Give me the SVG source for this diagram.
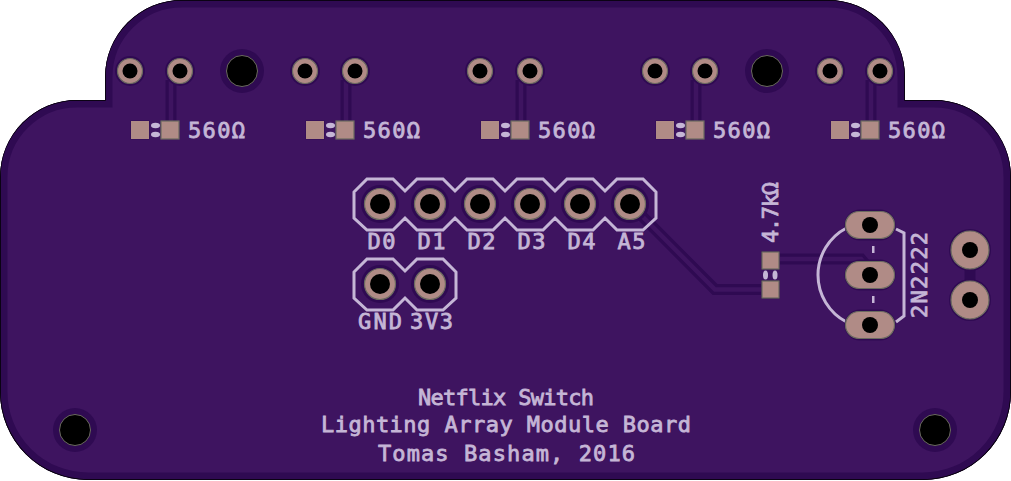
<svg xmlns="http://www.w3.org/2000/svg" xmlns:xlink="http://www.w3.org/1999/xlink" width="1011" height="481" viewBox="0 0 1011 481">
<style>
.clr{fill:#2f0a52}
.pad{fill:#b08b86;stroke:#6b6a60;stroke-width:1.2}
.hole{fill:#000}
.silk{fill:none;stroke:#c5b6d6;stroke-width:3}
.dot{fill:#c5b6d6}
.t{font-family:"DejaVu Sans Mono","Liberation Mono",monospace;font-size:22px;fill:#c5b6d6;stroke:#c5b6d6;stroke-width:.8}
.tr0{fill:none;stroke:#2f0a52;stroke-width:11}
.tr1{fill:none;stroke:#3e1460;stroke-width:4.5}
</style>
<defs>
<path id="outline" d="M0 177A77 77 0 0 1 77 100H105V77A77 77 0 0 1 182 0H828A77 77 0 0 1 905 77V100H934A77 77 0 0 1 1011 177V392A88 88 0 0 1 923 480H88A88 88 0 0 1 0 392Z"/>
<clipPath id="bc"><use xlink:href="#outline"/></clipPath>
<g id="pin"><circle r="15" class="clr"/><circle r="12.5" class="pad"/><circle r="7.5" class="hole"/></g>
<g id="hdr"><circle r="19" class="clr"/><circle r="15.5" class="pad"/><circle r="10" class="hole"/></g>
<g id="mnt"><circle r="22" class="clr"/><circle r="15.5" fill="#000" stroke="#6b6a60"/></g>
<g id="res"><rect x="-39.500" y="-9.500" width="19" height="19" class="clr"/><rect x="-39" y="-9" width="18" height="18" fill="#b08b86"/><rect x="-9" y="-9" width="18" height="18" class="pad"/><ellipse cx="-14.500" cy="-4.500" rx="4.500" ry="2.700" class="dot"/><ellipse cx="-14.500" cy="4.500" rx="4.500" ry="2.700" class="dot"/></g>
<g id="ob"><rect x="-25.500" y="-15.500" width="51" height="31" rx="15.500" class="clr"/><rect x="-24.500" y="-13.500" width="49" height="27" rx="13.500" class="pad"/><circle r="8" class="hole"/></g>
</defs>
<rect width="1011" height="481" fill="#fff"/>
<g id="board" clip-path="url(#bc)">
<use xlink:href="#outline" fill="#3e1460"/>
<use xlink:href="#outline" fill="none" stroke="#2f0a52" stroke-width="15"/>
<use xlink:href="#outline" fill="none" stroke="#000" stroke-width="1.500"/>
</g>
<g id="connectors">
<path class="tr0" d="M171 80V125M346 80V125M521 80V125M696 80V125M871 80V125M630 204L715 289.500H769M772 259H861L872 272M970 250V300"/>
<path class="tr1" d="M171 80V125M346 80V125M521 80V125M696 80V125M871 80V125M630 204L715 289.500H769M772 259H861L872 272"/>
</g>
<g id="pins">
<use xlink:href="#pin" x="130" y="71"/><use xlink:href="#pin" x="180" y="71"/>
<use xlink:href="#pin" x="305" y="71"/><use xlink:href="#pin" x="355" y="71"/>
<use xlink:href="#pin" x="480" y="71"/><use xlink:href="#pin" x="530" y="71"/>
<use xlink:href="#pin" x="655" y="71"/><use xlink:href="#pin" x="705" y="71"/>
<use xlink:href="#pin" x="830" y="71"/><use xlink:href="#pin" x="880" y="71"/>
</g>
<g id="mounts">
<use xlink:href="#mnt" x="242" y="71"/><use xlink:href="#mnt" x="767" y="71"/>
<use xlink:href="#mnt" x="75" y="430"/><use xlink:href="#mnt" x="935" y="430"/>
</g>
<g id="r1"><use xlink:href="#res" x="170" y="130"/><text class="t" x="188" y="138" textLength="57">560Ω</text></g>
<g id="r2"><use xlink:href="#res" x="345" y="130"/><text class="t" x="363" y="138" textLength="57">560Ω</text></g>
<g id="r3"><use xlink:href="#res" x="520" y="130"/><text class="t" x="538" y="138" textLength="57">560Ω</text></g>
<g id="r4"><use xlink:href="#res" x="695" y="130"/><text class="t" x="713" y="138" textLength="57">560Ω</text></g>
<g id="r5"><use xlink:href="#res" x="870" y="130"/><text class="t" x="888" y="138" textLength="57">560Ω</text></g>
<g id="header1">
<path class="silk" d="M354 192L367 179H393L405 191L417 179H443L455 191L467 179H493L505 191L517 179H543L555 191L567 179H593L605 191L617 179H643L656 192V218L643 230H617L605 218L593 230H567L555 218L543 230H517L505 218L493 230H467L455 218L443 230H417L405 218L393 230H367L354 218Z"/>
<use xlink:href="#hdr" x="380" y="204"/><use xlink:href="#hdr" x="430" y="204"/><use xlink:href="#hdr" x="480" y="204"/><use xlink:href="#hdr" x="530" y="204"/><use xlink:href="#hdr" x="580" y="204"/><use xlink:href="#hdr" x="630" y="204"/>
<text class="t" x="367.500" y="249" textLength="28">D0</text><text class="t" x="417.500" y="249" textLength="28">D1</text><text class="t" x="467.500" y="249" textLength="28">D2</text><text class="t" x="517.500" y="249" textLength="28">D3</text><text class="t" x="567.500" y="249" textLength="28">D4</text><text class="t" x="617.500" y="249" textLength="28">A5</text>
</g>
<g id="header2">
<path class="silk" d="M354 272L367 259H393L405 271L417 259H443L456 272V298L443 310H417L405 298L393 310H367L354 298Z"/>
<use xlink:href="#hdr" x="380" y="284"/><use xlink:href="#hdr" x="430" y="284"/>
<text class="t" x="358" y="329" textLength="44">GND</text><text class="t" x="410" y="329" textLength="43">3V3</text>
</g>
<g id="r6">
<rect x="761" y="251" width="19" height="19" class="clr"/><rect x="761" y="280" width="19" height="19" class="clr"/>
<rect x="762" y="252" width="17" height="17" class="pad"/><rect x="762" y="281" width="17" height="17" class="pad"/>
<ellipse cx="765.500" cy="275" rx="2.500" ry="4.500" class="dot"/><ellipse cx="775" cy="275" rx="2.500" ry="4.500" class="dot"/>
<text class="t" transform="translate(778 243) rotate(-90)" textLength="61">4.7kΩ</text>
</g>
<g id="q1">
<path class="silk" d="M846.500 228A53 53 0 0 0 846.500 322M896 229L904 233V316L896 322"/>
<rect x="872" y="246" width="2.500" height="7" class="dot"/><rect x="872" y="296" width="2.500" height="7" class="dot"/>
<use xlink:href="#ob" x="870" y="225"/><use xlink:href="#ob" x="870" y="275"/><use xlink:href="#ob" x="870" y="325"/>
<text class="t" transform="translate(927 318) rotate(-90)" textLength="86">2N2222</text>
</g>
<g id="j1">
<circle cx="970" cy="250" r="21" class="clr"/><circle cx="970" cy="300" r="21" class="clr"/>
<circle cx="970" cy="250" r="19" class="pad"/><circle cx="970" cy="300" r="19" class="pad"/>
<circle cx="970" cy="250" r="8" class="hole"/><circle cx="970" cy="300" r="8" class="hole"/>
</g>
<g id="title">
<text class="t" x="418" y="405" textLength="176">Netflix Switch</text>
<text class="t" x="321" y="432" textLength="370">Lighting Array Module Board</text>
<text class="t" x="378" y="461" textLength="257">Tomas Basham, 2016</text>
</g>
</svg>
